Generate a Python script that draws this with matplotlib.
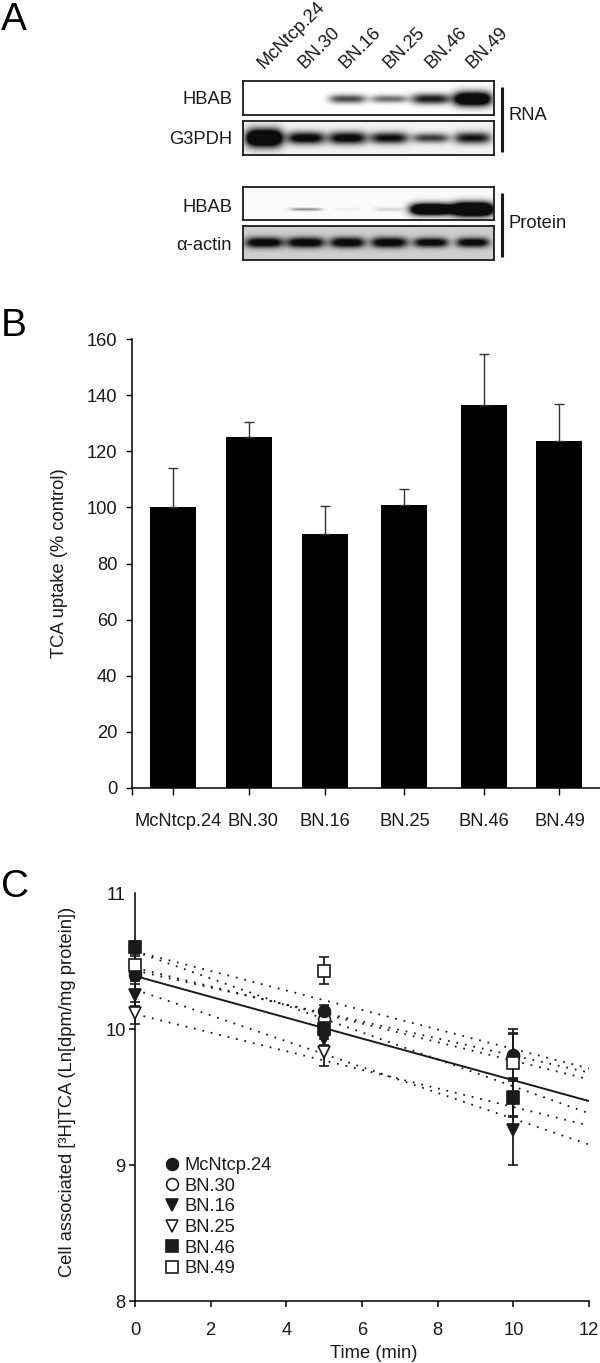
import numpy as np
import matplotlib
matplotlib.use('Agg')
import matplotlib.pyplot as plt

plt.rcParams['font.family'] = ['Liberation Sans', 'DejaVu Sans']
FS = 13.2
INK = '#1a1a1a'

# ---------- data ----------
cell_lines = ['McNtcp.24', 'BN.30', 'BN.16', 'BN.25', 'BN.46', 'BN.49']

blot_names = ['HBAB', 'G3PDH', 'HBAB', 'α-actin']
blot_bg = [0.95, 0.90, 0.93, 0.76]
rna_hbab = [0.0, 0.0, 0.75, 0.6, 0.95, 1.6]
rna_g3pdh = [1.9, 1.15, 1.15, 1.05, 0.8, 1.0]
prot_hbab = [0.0, 0.45, 0.06, 0.15, 1.9, 2.2]
prot_actin = [1.25, 1.25, 1.25, 1.25, 1.2, 1.2]
blot_lanes = [rna_hbab, rna_g3pdh, prot_hbab, prot_actin]
blot_widths = [[.4, .4, .44, .44, .47, .46],
               [.44, .46, .46, .46, .44, .44],
               [.4, .38, .3, .35, .5, .5],
               [.46, .46, .42, .44, .42, .4]]
blot_heights = [[5, 5, 4.5, 4, 5.5, 7.5], [9, 6.5, 6.5, 6, 5, 6],
                [4, 1.5, 1.5, 2, 6, 7], [5.5, 5.5, 5.5, 5.5, 5, 5]]

uptake = [100, 125, 90.5, 101, 136.5, 123.5]
uptake_err = [14, 5.5, 10, 5.5, 18, 13.5]

times = [0, 5, 10]
ln_tca = {
    'McNtcp.24': [10.40, 10.13, 9.81],
    'BN.30': [10.42, 10.07, 9.80],
    'BN.16': [10.25, 9.93, 9.26],
    'BN.25': [10.12, 9.83, 9.50],
    'BN.46': [10.60, 10.00, 9.49],
    'BN.49': [10.47, 10.43, 9.75],
}
ln_err = {
    'McNtcp.24': [0.05, 0.05, 0.19],
    'BN.30': [0.05, 0.05, 0.17],
    'BN.16': [0.08, 0.05, 0.26],
    'BN.25': [0.08, 0.10, 0.14],
    'BN.46': [0.05, 0.05, 0.14],
    'BN.49': [0.07, 0.10, 0.21],
}
markers = ['o', 'o', 'v', 'v', 's', 's']
filled = [True, False, True, False, True, False]
series_z = [3.1, 3.0, 3.2, 3.3, 3.4, 3.5]
fit_x = [0, 12]
fit_solid = [10.39, 9.47]
fit_dotted = [[10.57, 9.71], [10.43, 9.68], [10.45, 9.63],
              [10.57, 9.38], [10.11, 9.29], [10.29, 9.15]]

W, H = 600, 1363
fig = plt.figure(figsize=(W / 100, H / 100), dpi=100, facecolor='white')


def axpx(x0, y0, x1, y1):
    return fig.add_axes([x0 / W, 1 - y1 / H, (x1 - x0) / W, (y1 - y0) / H])


def tx(x, y, s, **kw):
    kw.setdefault('fontsize', FS)
    kw.setdefault('color', INK)
    fig.text(x / W, 1 - y / H, s, **kw)


for letter, y in zip('ABC', [20, 326, 887]):
    tx(1, y, letter, fontsize=28, ha='left', va='center', color='black')

# ---------- A: blots ----------
boxes = [(81, 115), (121, 155), (187, 220), (226, 260)]
label_y = [99, 139, 208, 245]
band_offset = [1, 0, 6, -0.5]
for i, (y0, y1) in enumerate(boxes):
    ax = axpx(243, y0, 494, y1)
    xs = np.linspace(-0.5, 5.5, 251)
    ys = np.linspace(-(y1 - y0) / 2, (y1 - y0) / 2, y1 - y0)
    xx, yy = np.meshgrid(xs, ys)
    dark = np.zeros_like(xx)
    for k, amp in enumerate(blot_lanes[i]):
        dark += amp * np.exp(-((xx - k) / blot_widths[i][k]) ** 4
                             - ((yy - band_offset[i]) / blot_heights[i][k]) ** 2)
    img = np.clip(blot_bg[i] * (1 - np.clip(dark, 0, 1)) + 0.05, 0, 1)
    ax.imshow(img, cmap='gray', vmin=0, vmax=1, aspect='auto',
              extent=(-0.5, 5.5, ys[-1], ys[0]), interpolation='bilinear')
    ax.set_xticks([])
    ax.set_yticks([])
    for s in ax.spines.values():
        s.set_linewidth(1.3)
        s.set_color(INK)
    tx(232, label_y[i], blot_names[i], ha='right', va='center')

for name, x in zip(cell_lines, [266, 307, 348, 392, 434, 475]):
    tx(x, 72, name, rotation=45, rotation_mode='anchor', ha='left', va='bottom')

for y0, y1, label, ly in [(87, 152, 'RNA', 116), (193, 257, 'Protein', 223)]:
    fig.add_artist(plt.Line2D([502 / W, 502 / W], [1 - y0 / H, 1 - y1 / H],
                              color=INK, lw=2.2, solid_capstyle='butt'))
    tx(508, ly, label, ha='left', va='center')

# ---------- B: bars ----------
ax = axpx(132, 339, 600, 788)
bar_x = np.array([0, 1, 2, 3.04, 4.09, 5.08])
ax.bar(bar_x, uptake, width=0.605, color='black',
       yerr=[np.zeros(len(uptake)), uptake_err],
       error_kw=dict(ecolor='#333333', elinewidth=1.0, capsize=3.6, capthick=1.0))
ax.set_xlim(-0.54, 5.62)
ax.set_ylim(0, 160)
ax.set_yticks(range(0, 161, 20))
ax.set_xticks(np.r_[-0.54, bar_x])
ax.set_xticklabels([])
ax.tick_params(axis='x', length=4.7, width=1.0)
ax.tick_params(axis='y', length=4.2, width=1.0, pad=6.5, labelsize=FS, labelcolor=INK)
for s in ['top', 'right']:
    ax.spines[s].set_visible(False)
for s in ['left', 'bottom']:
    ax.spines[s].set_linewidth(1.1)
for name, x in zip(cell_lines, [178, 253, 325, 404.5, 484, 559.5]):
    tx(x, 822, name, ha='center', va='center')
tx(60, 563, 'TCA uptake (% control)', rotation=90, ha='center', va='center')

# ---------- C: time course ----------
ax = axpx(135, 893, 589, 1301)
for line in fit_dotted:
    ax.plot(fit_x, line, color=INK, lw=1.3, ls=(0, (1, 3.8)), zorder=2)
ax.plot(fit_x, fit_solid, color=INK, lw=1.4, zorder=2)
for name, m, f, z in zip(cell_lines, markers, filled, series_z):
    ax.errorbar(times, ln_tca[name], yerr=ln_err[name], fmt=m, ms=8.5, mew=1.2,
                mec=INK, mfc=INK if f else 'white', ecolor=INK, elinewidth=1.3,
                capsize=3.5, capthick=1.2, label=name, zorder=z, clip_on=False)
ax.set_xlim(0, 12)
ax.set_ylim(8, 11)
ax.set_xticks(range(0, 13, 2))
ax.set_yticks([8, 9, 10, 11])
ax.tick_params(axis='x', length=4.3, width=1.1, labelsize=FS, labelcolor=INK, pad=11)
ax.tick_params(axis='y', length=4.3, width=1.1, labelsize=FS, labelcolor=INK, pad=2.5)
ax.yaxis.get_major_ticks()[-1].tick1line.set_visible(False)
for s in ['top', 'right']:
    ax.spines[s].set_visible(False)
for s in ['left', 'bottom']:
    ax.spines[s].set_linewidth(1.1)
handles, labels = ax.get_legend_handles_labels()
handles = [h[0] for h in handles]
ax.legend(handles, labels, loc='upper left', bbox_to_anchor=((165 - 135) / 454, (1301 - 1157) / 408),
          frameon=False, fontsize=FS, labelspacing=0.2, handlelength=0.8,
          handletextpad=0.25, borderpad=0, borderaxespad=0, labelcolor=INK)
tx(374, 1353, 'Time (min)', ha='center', va='center')
tx(68, 1092, 'Cell associated [³H]TCA (Ln[dpm/mg protein])', rotation=90, ha='center', va='center')

fig.savefig('out.png', dpi=100)
